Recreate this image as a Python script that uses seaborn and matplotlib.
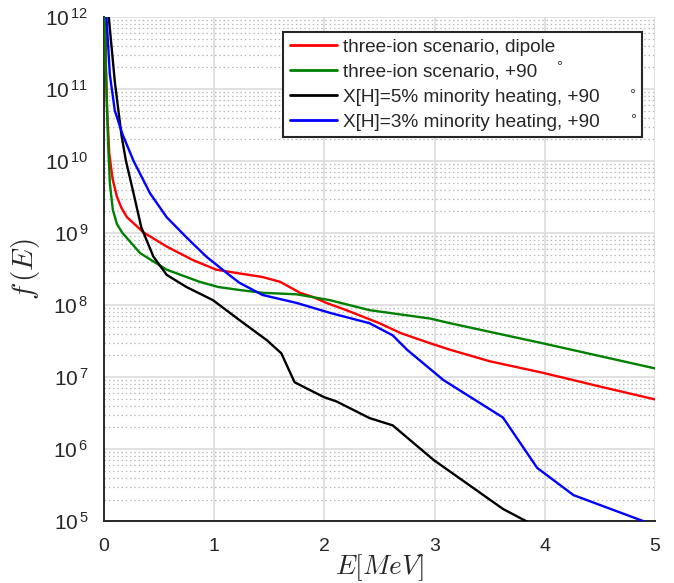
import numpy as np
import pandas as pd
import matplotlib
matplotlib.use("Agg")
import matplotlib.pyplot as plt
import matplotlib.ticker as mticker
import seaborn as sns

# ---------------- data ----------------
labels = ["three-ion scenario, dipole",
          "three-ion scenario, +90",
          "X[H]=5% minority heating, +90",
          "X[H]=3% minority heating, +90"]
colors = ["#ff0000", "#008000", "#000000", "#0000ff"]

red_E = [0.015, 0.02, 0.03, 0.05, 0.08, 0.12, 0.16, 0.21, 0.36, 0.57, 0.81, 1.02,
         1.23, 1.44, 1.6, 1.78, 1.9, 2.02, 2.2, 2.5, 2.69, 2.96, 3.14, 3.5, 3.98, 4.5, 5.0]
red_f = [1e12, 2e11, 5e10, 1.26e10, 5.6e9, 3.16e9, 2.24e9, 1.66e9, 1.02e9, 6.5e8, 4.2e8, 3.1e8,
         2.75e8, 2.45e8, 2.1e8, 1.48e8, 1.29e8, 1.07e8, 8.5e7, 5.6e7, 4.1e7, 2.95e7, 2.4e7,
         1.66e7, 1.15e7, 7.4e6, 4.9e6]

green_E = [0.012, 0.018, 0.027, 0.04, 0.055, 0.082, 0.12, 0.17, 0.33, 0.57, 0.87, 1.04,
           1.23, 1.44, 1.75, 2.05, 2.41, 2.96, 3.14, 3.98, 5.0]
green_f = [1e12, 2e11, 7.1e10, 1.58e10, 4.9e9, 2.1e9, 1.32e9, 1e9, 5.25e8, 3.1e8, 2.1e8, 1.78e8,
           1.62e8, 1.48e8, 1.41e8, 1.17e8, 8.5e7, 6.5e7, 5.6e7, 2.95e7, 1.32e7]

black_E = [0.045, 0.1, 0.16, 0.2, 0.27, 0.34, 0.45, 0.57, 0.75, 0.99, 1.23, 1.48, 1.61,
           1.73, 1.87, 2.0, 2.11, 2.41, 2.62, 2.99, 3.62, 3.87]
black_f = [1e12, 1.26e11, 2.3e10, 1.02e10, 3.55e9, 1.2e9, 4.7e8, 2.63e8, 1.78e8, 1.17e8,
           6.2e7, 3.24e7, 2.14e7, 8.5e6, 6.6e6, 5.25e6, 4.6e6, 2.7e6, 2.14e6, 7.1e5, 1.48e5, 9.3e4]

blue_E = [0.024, 0.055, 0.1, 0.17, 0.27, 0.42, 0.57, 0.75, 0.93, 1.12, 1.23, 1.44, 1.75,
          2.05, 2.41, 2.62, 2.75, 3.08, 3.62, 3.93, 4.26, 4.95]
blue_f = [1e12, 1.58e11, 5e10, 2.34e10, 1e10, 3.55e9, 1.66e9, 8.7e8, 4.7e8, 2.75e8, 2.04e8,
          1.38e8, 1.07e8, 7.8e7, 5.6e7, 3.8e7, 2.4e7, 9.1e6, 2.75e6, 5.5e5, 2.3e5, 9.3e4]

x_ticks = [0, 1, 2, 3, 4, 5]
y_decades = [5, 6, 7, 8, 9, 10, 11, 12]

# ---------------- figure ----------------
sns.set_style("white")
plt.rcParams["font.family"] = ["Liberation Sans", "DejaVu Sans"]
plt.rcParams["mathtext.fontset"] = "cm"

frames = []
for lab, E, f in zip(labels, [red_E, green_E, black_E, blue_E],
                     [red_f, green_f, black_f, blue_f]):
    frames.append(pd.DataFrame({"E": E, "f": f, "series": lab}))
df = pd.concat(frames, ignore_index=True)

fig = plt.figure(figsize=(6.74, 5.83), dpi=100)
ax = fig.add_axes([0.154, 0.106, 0.818, 0.865])

sns.lineplot(data=df, x="E", y="f", hue="series", hue_order=labels,
             palette=dict(zip(labels, colors)), sort=False, estimator=None,
             linewidth=1.7, ax=ax, zorder=3)

ax.set_yscale("log")
ax.set_xlim(0, 5)
ax.set_ylim(1e5, 1e12)
ax.set_xticks(x_ticks)
ax.set_xticklabels([str(t) for t in x_ticks])
ax.set_yticks([10.0 ** d for d in y_decades])
ax.set_yticklabels([r"$\mathregular{10^{\,%d}}$" % d for d in y_decades])
ax.yaxis.set_minor_locator(mticker.LogLocator(base=10, subs=np.arange(2, 10), numticks=20))
ax.yaxis.set_minor_formatter(mticker.NullFormatter())

ax.set_axisbelow(True)
ax.grid(True, which="major", axis="both", color="#dedede", linewidth=1.3, linestyle="-")
ax.grid(True, which="minor", axis="y", color="#b8b8b8", linewidth=0.9, linestyle=(0, (1.2, 2.2)))

for s in ["top", "right"]:
    ax.spines[s].set_visible(False)
for s in ["left", "bottom"]:
    ax.spines[s].set_color("#262626")
    ax.spines[s].set_linewidth(1.4)

ax.tick_params(axis="both", which="major", direction="in", length=5, width=1.2,
               colors="#262626", labelsize=14)
ax.tick_params(axis="x", which="major", pad=12)
ax.tick_params(axis="y", which="major", pad=11, labelsize=15)
ax.tick_params(axis="y", which="minor", direction="in", length=3, width=1.0, colors="#262626")

ax.set_xlabel(r"$E[MeV]$", fontsize=19.5, color="#262626", labelpad=-2)
ax.set_ylabel(r"$f\,(E)$", fontsize=21, color="#262626", labelpad=2)

leg = ax.legend(loc="upper left", bbox_to_anchor=(0.325, 0.770, 0.651, 0.2),
                mode="expand", fontsize=13.7,
                frameon=True, fancybox=False, edgecolor="#262626", framealpha=1,
                handlelength=2.5, handletextpad=0.28, labelspacing=0.4,
                borderpad=0.35, borderaxespad=0.0)
leg.get_frame().set_linewidth(1.5)
for h in leg.get_lines():
    h.set_linewidth(2.0)
leg.set_title(None)

# stray degree signs of the "+90" entries, as in the reference
deg_pos = [(0.826, 0.893), (0.958, 0.837), (0.960, 0.788)]
for dx, dy in deg_pos:
    ax.text(dx, dy, "°", transform=ax.transAxes, fontsize=11, color="#444444",
            ha="center", va="baseline", zorder=10)

fig.savefig("out.png", dpi=100)
